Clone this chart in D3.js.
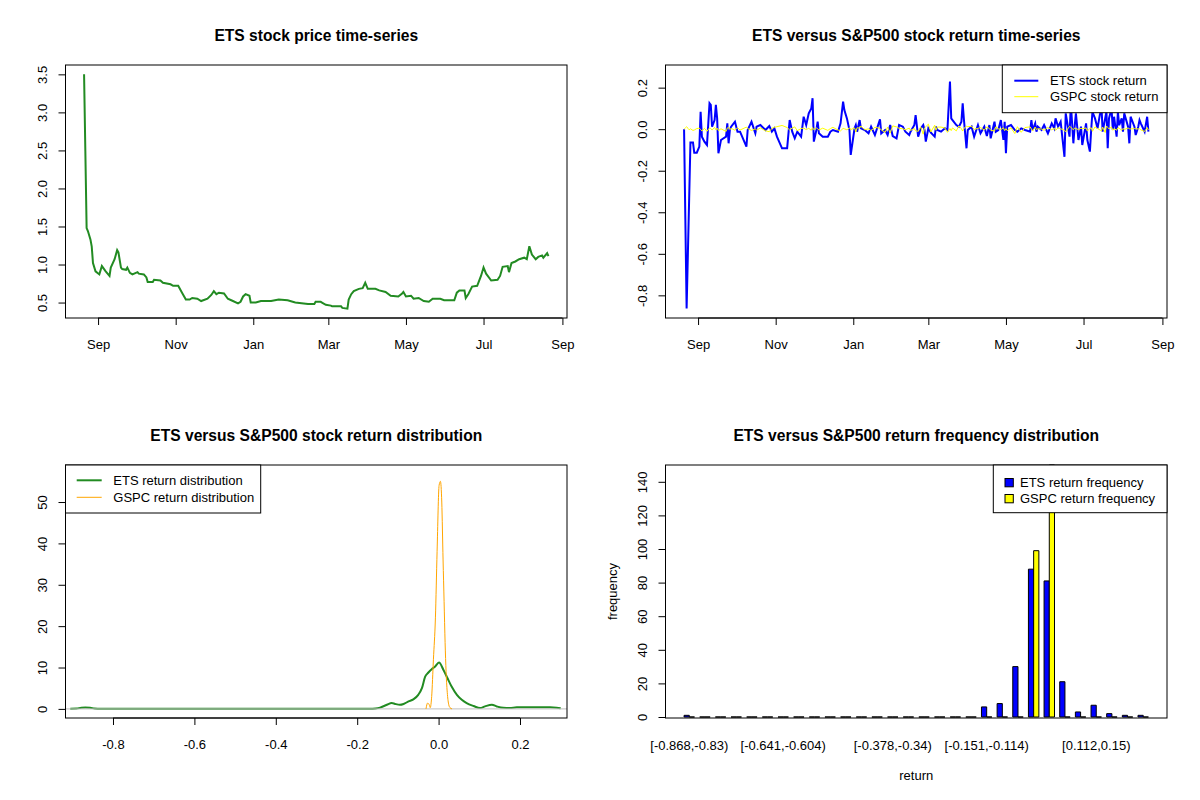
<!DOCTYPE html>
<html>
<head>
<meta charset="utf-8">
<script src="https://cdn.jsdelivr.net/npm/d3@7"></script>
<style>
body { margin: 0; background: #fff; }
</style>
</head>
<body>
<script>
// ETS closing price
var priceDates = [
  "2020-08-21","2020-08-22","2020-08-23","2020-08-24","2020-08-26","2020-08-27","2020-08-28","2020-08-30",
  "2020-09-02","2020-09-04","2020-09-07","2020-09-10","2020-09-11","2020-09-14","2020-09-16","2020-09-17",
  "2020-09-19","2020-09-20","2020-09-23","2020-09-24","2020-09-26","2020-09-28","2020-10-02","2020-10-03",
  "2020-10-07","2020-10-09","2020-10-10","2020-10-14","2020-10-15","2020-10-20","2020-10-22","2020-10-28",
  "2020-10-30","2020-11-03","2020-11-06","2020-11-09","2020-11-12","2020-11-14","2020-11-18","2020-11-21",
  "2020-11-26","2020-11-29","2020-12-01","2020-12-03","2020-12-05","2020-12-09","2020-12-12","2020-12-16",
  "2020-12-20","2020-12-22","2020-12-24","2020-12-26","2020-12-29","2020-12-30","2021-01-03","2021-01-07",
  "2021-01-15","2021-01-21","2021-01-28","2021-02-03","2021-02-13","2021-02-18","2021-02-19","2021-02-23",
  "2021-02-24","2021-02-27","2021-03-03","2021-03-04","2021-03-11","2021-03-12","2021-03-16","2021-03-17",
  "2021-03-19","2021-03-21","2021-03-25","2021-03-28","2021-03-30","2021-04-01","2021-04-07","2021-04-10",
  "2021-04-15","2021-04-19","2021-04-25","2021-04-28","2021-04-29","2021-05-01","2021-05-05","2021-05-07",
  "2021-05-11","2021-05-15","2021-05-19","2021-05-22","2021-05-28","2021-05-31","2021-06-08","2021-06-10",
  "2021-06-12","2021-06-16","2021-06-17","2021-06-19","2021-06-22","2021-06-26","2021-06-29","2021-07-01",
  "2021-07-03","2021-07-07","2021-07-12","2021-07-14","2021-07-16","2021-07-20","2021-07-21","2021-07-23",
  "2021-07-26","2021-07-29","2021-08-02","2021-08-04","2021-08-06","2021-08-08","2021-08-11","2021-08-13",
  "2021-08-16","2021-08-17","2021-08-20","2021-08-21"];
var prices = [
  3.50,2.49,1.48,1.44,1.33,1.24,1.02,0.91,
  0.87,0.98,0.91,0.85,0.96,1.07,1.19,1.16,
  0.96,0.94,0.93,0.96,0.89,0.87,0.90,0.88,
  0.87,0.83,0.77,0.77,0.80,0.79,0.76,0.74,
  0.72,0.72,0.63,0.54,0.54,0.56,0.55,0.52,
  0.55,0.60,0.65,0.61,0.63,0.62,0.55,0.52,
  0.49,0.51,0.58,0.61,0.59,0.50,0.50,0.52,
  0.52,0.54,0.53,0.50,0.48,0.48,0.51,0.51,
  0.50,0.47,0.46,0.45,0.45,0.43,0.42,0.54,
  0.61,0.65,0.68,0.69,0.76,0.68,0.68,0.66,
  0.64,0.59,0.58,0.62,0.64,0.58,0.59,0.55,
  0.56,0.52,0.51,0.55,0.55,0.53,0.53,0.63,
  0.66,0.66,0.56,0.61,0.71,0.72,0.85,0.96,
  0.88,0.79,0.80,0.85,0.97,0.98,0.90,1.02,
  1.04,1.07,1.09,1.07,1.24,1.13,1.07,1.10,
  1.12,1.09,1.15,1.11];

// daily returns (ETS and S&P500), one line per month
var retDates = [
  "2020-08-21","2020-08-22","2020-08-23","2020-08-24","2020-08-25","2020-08-26","2020-08-28","2020-08-29","2020-08-31",
  "2020-09-02","2020-09-03","2020-09-04","2020-09-06","2020-09-08","2020-09-10","2020-09-11","2020-09-12","2020-09-14","2020-09-15","2020-09-16","2020-09-17","2020-09-19","2020-09-23","2020-09-24","2020-09-25","2020-09-26","2020-09-27","2020-09-30",
  "2020-10-02","2020-10-04","2020-10-09","2020-10-10","2020-10-13","2020-10-16","2020-10-17","2020-10-20","2020-10-24","2020-10-27","2020-10-29","2020-10-31",
  "2020-11-02","2020-11-06","2020-11-10","2020-11-12","2020-11-14","2020-11-16","2020-11-18","2020-11-21","2020-11-23","2020-11-25","2020-11-27","2020-11-29","2020-11-30",
  "2020-12-01","2020-12-03","2020-12-04","2020-12-05","2020-12-08","2020-12-12","2020-12-14","2020-12-16","2020-12-20","2020-12-22","2020-12-24","2020-12-25","2020-12-27","2020-12-29","2020-12-30",
  "2021-01-02","2021-01-03","2021-01-04","2021-01-06","2021-01-07","2021-01-10","2021-01-13","2021-01-15","2021-01-18","2021-01-22","2021-01-23","2021-01-26","2021-01-28","2021-01-30",
  "2021-02-01","2021-02-04","2021-02-06","2021-02-09","2021-02-11","2021-02-14","2021-02-15","2021-02-18","2021-02-19","2021-02-21","2021-02-23","2021-02-25","2021-02-26","2021-02-27",
  "2021-03-01","2021-03-03","2021-03-06","2021-03-07","2021-03-08","2021-03-11","2021-03-14","2021-03-16","2021-03-18","2021-03-19","2021-03-20","2021-03-23","2021-03-25","2021-03-27","2021-03-28","2021-03-29","2021-03-31",
  "2021-04-01","2021-04-04","2021-04-06","2021-04-09","2021-04-11","2021-04-14","2021-04-16","2021-04-18","2021-04-19","2021-04-22","2021-04-23","2021-04-25","2021-04-27","2021-04-29","2021-04-30",
  "2021-05-01","2021-05-02","2021-05-05","2021-05-08","2021-05-10","2021-05-13","2021-05-16","2021-05-20","2021-05-21","2021-05-22","2021-05-24","2021-05-25","2021-05-26","2021-05-29","2021-05-31",
  "2021-06-03","2021-06-06","2021-06-08","2021-06-09","2021-06-11","2021-06-13","2021-06-16","2021-06-17","2021-06-20","2021-06-21","2021-06-23","2021-06-24","2021-06-25","2021-06-27","2021-06-29","2021-06-30",
  "2021-07-03","2021-07-04","2021-07-06","2021-07-07","2021-07-08","2021-07-10","2021-07-12","2021-07-14","2021-07-15","2021-07-16","2021-07-18","2021-07-19","2021-07-20","2021-07-21","2021-07-23","2021-07-24","2021-07-25","2021-07-27","2021-07-28","2021-07-29","2021-07-31",
  "2021-08-01","2021-08-02","2021-08-05","2021-08-06","2021-08-07","2021-08-10","2021-08-11","2021-08-13","2021-08-14","2021-08-15","2021-08-18","2021-08-20","2021-08-21"];
var etsReturns = [
  0,-0.434,-0.863,-0.598,-0.333,-0.064,-0.064,-0.113,-0.113,
  -0.084,0.084,-0.036,-0.060,-0.076,0.125,0.117,0.012,0.044,0.117,0.052,-0.116,-0.052,-0.036,0.028,-0.068,-0.004,0.012,0.036,
  -0.012,-0.012,-0.084,-0.004,0.036,-0.020,0.012,0.020,-0.004,0.015,-0.012,0.004,
  -0.036,-0.092,-0.092,0.044,-0.012,-0.044,-0.012,-0.036,0.060,0.020,0.076,0.100,0.149,
  -0.060,-0.004,0.036,-0.020,-0.036,-0.036,-0.012,-0.004,-0.012,0.028,0.133,0.092,0.052,-0.004,-0.124,
  0.004,0.020,-0.012,0.044,0.004,-0.004,-0.020,0.012,-0.028,0.047,-0.020,-0.004,-0.028,0.020,
  -0.033,-0.044,0.020,0.012,-0.012,-0.028,-0.012,0.020,0.068,-0.036,0.004,0.020,-0.004,-0.060,
  0.004,-0.017,-0.036,0.012,-0.004,-0.012,0.004,-0.004,0.229,0.052,0.044,0.020,0.012,0.036,0.125,0.044,-0.092,
  -0.004,0.012,-0.036,0.020,-0.020,0.012,-0.033,0.020,-0.044,0.036,-0.012,-0.004,0.044,-0.052,0.036,
  -0.116,0.012,0.020,-0.004,-0.012,0.004,-0.004,-0.012,0.044,-0.004,0.028,-0.012,0.012,-0.004,0.020,
  -0.020,0.028,0.004,0.052,0.012,0.036,-0.133,0.076,-0.036,0.125,-0.068,0.012,0.076,-0.052,0.012,-0.076,
  0.028,-0.052,-0.108,-0.004,0.084,0.052,0.004,0.076,0.125,-0.012,0.052,0.084,-0.092,0.052,0.100,-0.004,0.060,-0.036,0.084,0.020,0.052,
  -0.012,0.076,0.012,-0.068,0.060,0.012,-0.028,0.012,0.044,0.028,-0.012,0.060,-0.012];
var gspcReturns = [
  0,0.006,0.012,0.004,-0.003,0.002,-0.006,-0.004,0.003,
  0.005,-0.002,-0.008,0.004,-0.010,0.006,0.003,-0.004,0.008,-0.003,0.005,-0.007,0.002,-0.011,0.006,0.009,-0.002,0.004,-0.005,
  0.007,-0.004,0.010,0.003,-0.006,0.002,-0.005,0.006,-0.008,-0.012,0.004,0.009,
  0.012,0.018,0.008,-0.004,0.006,0.011,-0.007,0.003,0.005,-0.002,0.004,-0.005,0.008,
  -0.003,0.006,0.002,-0.004,0.005,-0.006,0.003,0.009,-0.004,-0.008,0.004,0.002,-0.003,0.007,-0.002,
  0.006,-0.014,0.007,0.005,0.015,-0.003,0.002,-0.007,0.009,0.004,-0.004,-0.015,0.010,-0.019,
  0.016,0.011,0.004,0.002,-0.003,0.005,-0.006,0.003,-0.008,-0.010,0.011,-0.024,0.006,0.012,
  0.024,-0.013,0.019,-0.005,0.010,0.010,0.006,-0.015,0.003,-0.007,0.006,-0.008,0.016,0.002,-0.009,0.004,0.014,
  0.012,0.014,-0.001,0.004,0.008,-0.004,0.011,0.003,-0.005,-0.009,0.011,0.002,-0.002,0.007,-0.007,
  0.003,-0.007,0.006,-0.021,0.012,-0.015,0.008,0.011,0.001,-0.008,0.010,-0.002,0.002,0.001,-0.005,
  0.008,-0.003,0.005,-0.006,0.007,0.002,-0.005,-0.013,0.014,0.009,-0.003,0.006,0.003,-0.002,0.005,0.002,
  0.006,-0.009,0.004,0.007,-0.010,0.011,0.003,-0.004,-0.008,0.010,-0.016,0.015,0.008,0.002,0.010,-0.005,0.003,-0.005,0.007,0.004,-0.005,
  0.004,-0.002,0.006,0.002,0.001,0.003,0.002,0.001,0.002,-0.003,-0.011,0.008,-0.004];

// kernel density estimates
var etsDensX = [-0.905,-0.89,-0.878,-0.868,-0.856,-0.845,-0.83,-0.6,-0.3,-0.17,
  -0.155,-0.144,-0.127,-0.115,-0.107,-0.095,-0.086,-0.074,-0.062,-0.050,
  -0.041,-0.033,-0.025,-0.017,-0.009,0.001,0.012,0.022,0.032,0.045,
  0.057,0.069,0.086,0.102,0.114,0.131,0.143,0.159,0.175,0.192,
  0.23,0.274,0.29,0.30];
var etsDensY = [0.05,0.08,0.3,0.35,0.3,0.08,0.03,0.02,0.02,0.03,
  0.1,0.3,1.0,1.4,1.2,1.0,1.2,1.8,2.3,3.4,
  5.0,7.8,8.8,9.6,10.2,11.2,9.4,7.4,5.4,3.4,
  2.2,1.4,0.7,0.2,0.6,1.0,0.6,0.25,0.2,0.4,
  0.4,0.4,0.3,0.15];
var gspcDensX = [-0.031,-0.027,-0.023,-0.0205,-0.017,-0.0127,-0.0078,-0.0037,0.0012,0.0045,
  0.0078,0.011,0.0135,0.016,0.0184,0.0217,0.025,0.028,0.033];
var gspcDensY = [0,1.4,1.0,0.3,3.0,12,22,38,54,55,
  50,36,26,16,9,3.5,1.0,0.3,0];

// return frequency table
var binLabels = ["[-0.868,-0.83)","[-0.83,-0.793)","[-0.793,-0.755)","[-0.755,-0.717)","[-0.717,-0.679)",
  "[-0.679,-0.641)","[-0.641,-0.604)","[-0.604,-0.566)","[-0.566,-0.528)","[-0.528,-0.491)",
  "[-0.491,-0.453)","[-0.453,-0.415)","[-0.415,-0.378)","[-0.378,-0.34)","[-0.34,-0.302)",
  "[-0.302,-0.264)","[-0.264,-0.227)","[-0.227,-0.189)","[-0.189,-0.151)","[-0.151,-0.114)",
  "[-0.114,-0.0758)","[-0.0758,-0.0381)","[-0.0381,-0.000351)","[-0.000351,0.0374)","[0.0374,0.075)",
  "[0.075,0.112)","[0.112,0.15)","[0.15,0.188)","[0.188,0.226)","[0.226,0.263]"];
var etsFreq  = [1,0,0,0,0,0,0,0,0,0, 0,0,0,0,0,0,0,0,0,6, 8,30,88,81,21,3,7,2,1,1];
var gspcFreq = [0,0,0,0,0,0,0,0,0,0, 0,0,0,0,0,0,0,0,0,0, 0,0,99,150,0,0,0,0,0,0];
var shownBins = [0, 6, 13, 19, 26];

var priceTicks = [0.5, 1.0, 1.5, 2.0, 2.5, 3.0, 3.5];
var retTicks = [-0.8, -0.6, -0.4, -0.2, 0.0, 0.2];
var densXTicks = [-0.8, -0.6, -0.4, -0.2, 0.0, 0.2];
var densYTicks = [0, 10, 20, 30, 40, 50];
var freqTicks = [0, 20, 40, 60, 80, 100, 120, 140];

var parseDate = d3.timeParse("%Y-%m-%d");
var FS = 13;          // axis / legend text size
var FT = 15.6;        // title size

var svg = d3.select("body").append("svg")
    .attr("width", 1200).attr("height", 800)
    .style("font-family", "'Liberation Sans', Arial, sans-serif");

// plot region inside every 600x400 panel
var L = 65.5, R = 567, T = 65, B = 318;

function panel(ox, oy, title) {
  var g = svg.append("g").attr("transform", "translate(" + ox + "," + oy + ")");
  g.append("text")
    .attr("x", (L + R) / 2).attr("y", 40.5)
    .attr("text-anchor", "middle")
    .style("font-weight", "bold").style("font-size", FT + "px")
    .text(title);
  return g;
}

function box(g) {
  g.append("rect").attr("x", L).attr("y", T).attr("width", R - L).attr("height", B - T)
    .attr("fill", "none").attr("stroke", "#000");
}

function bottomAxis(g, scale, values, fmt) {
  var ax = g.append("g").attr("transform", "translate(0," + B + ")")
    .call(d3.axisBottom(scale).tickValues(values).tickFormat(fmt).tickSize(7).tickSizeOuter(0));
  ax.attr("font-size", FS).attr("font-family", null);
  ax.select(".domain").remove();
  ax.selectAll("text").attr("y", 31).attr("dy", null).attr("fill", "#000");
  ax.selectAll("line").attr("stroke", "#000");
  g.append("line").attr("x1", scale(values[0])).attr("x2", scale(values[values.length - 1]))
    .attr("y1", B).attr("y2", B).attr("stroke", "#000");
}

function leftAxis(g, scale, values, fmt) {
  var ax = g.append("g").attr("transform", "translate(" + L + ",0)")
    .call(d3.axisLeft(scale).tickValues(values).tickFormat(fmt).tickSize(7).tickSizeOuter(0));
  ax.attr("font-size", FS).attr("font-family", null);
  ax.select(".domain").remove();
  ax.selectAll("text")
    .attr("x", null).attr("dy", null)
    .attr("text-anchor", "middle").attr("fill", "#000")
    .attr("transform", "translate(-19,0) rotate(-90)");
  ax.selectAll("line").attr("stroke", "#000");
  g.append("line").attr("x1", L).attr("x2", L)
    .attr("y1", scale(values[0])).attr("y2", scale(values[values.length - 1])).attr("stroke", "#000");
}

function fmt1(v) { return v.toFixed(1); }
function fmt0(v) { return String(v); }

// shared time axis (R pads the data range by 4% on each side)
var t0 = parseDate(priceDates[0]), t1 = parseDate(priceDates[priceDates.length - 1]);
var pad = (t1 - t0) * 0.04;
var timeDomain = [new Date(+t0 - pad), new Date(+t1 + pad)];
var monthTicks = d3.scaleTime().domain(timeDomain).ticks(d3.timeMonth.every(2));
var fmtMonth = d3.timeFormat("%b");

// ---------- panel 1: price ----------
(function () {
  var g = panel(0, 0, "ETS stock price time-series");
  var x = d3.scaleTime().domain(timeDomain).range([L, R]);
  var y = d3.scaleLinear().domain([0.297, 3.623]).range([B, T]);
  var line = d3.line()
    .x(function (d, i) { return x(parseDate(priceDates[i])); })
    .y(function (d) { return y(d); });
  g.append("path").datum(prices).attr("d", line)
    .attr("fill", "none").attr("stroke", "#228B22").attr("stroke-width", 2);
  box(g);
  bottomAxis(g, x, monthTicks, fmtMonth);
  leftAxis(g, y, priceTicks, fmt1);
})();

// ---------- panel 2: returns ----------
(function () {
  var g = panel(600, 0, "ETS versus S&P500 stock return time-series");
  var x = d3.scaleTime().domain(timeDomain).range([L, R]);
  var y = d3.scaleLinear().domain([-0.909, 0.309]).range([B, T]);
  var line = d3.line()
    .x(function (d, i) { return x(parseDate(retDates[i])); })
    .y(function (d) { return y(d); });
  g.append("path").datum(etsReturns).attr("d", line)
    .attr("fill", "none").attr("stroke", "#0000FF").attr("stroke-width", 2);
  g.append("path").datum(gspcReturns).attr("d", line)
    .attr("fill", "none").attr("stroke", "#FFFF00").attr("stroke-width", 1);
  box(g);
  bottomAxis(g, x, monthTicks, fmtMonth);
  leftAxis(g, y, retTicks, fmt1);

  var lg = g.append("g");
  lg.append("rect").attr("x", 402.3).attr("y", T).attr("width", R - 402.3).attr("height", 47.7)
    .attr("fill", "#fff").attr("stroke", "#000");
  var items = [["ETS stock return", "#0000FF", 2], ["GSPC stock return", "#FFFF00", 1]];
  items.forEach(function (it, i) {
    var yy = 80.7 + i * 16;
    lg.append("line").attr("x1", 414.3).attr("x2", 438.3).attr("y1", yy).attr("y2", yy)
      .attr("stroke", it[1]).attr("stroke-width", it[2]);
    lg.append("text").attr("x", 450).attr("y", yy + 4.6).style("font-size", FS + "px").text(it[0]);
  });
})();

// ---------- panel 3: densities ----------
(function () {
  var g = panel(0, 400, "ETS versus S&P500 stock return distribution");
  var x = d3.scaleLinear().domain([-0.9167, 0.3155]).range([L, R]);
  var y = d3.scaleLinear().domain([-2.2, 58.95]).range([B, T]);
  var line = d3.line().curve(d3.curveMonotoneX);
  g.append("path")
    .datum(etsDensX.map(function (v, i) { return [x(v), y(etsDensY[i])]; }))
    .attr("d", line).attr("fill", "none").attr("stroke", "#228B22").attr("stroke-width", 2);
  g.append("line").attr("x1", L).attr("x2", R).attr("y1", y(0)).attr("y2", y(0))
    .attr("stroke", "#bebebe").attr("stroke-width", 1);
  g.append("path")
    .datum(gspcDensX.map(function (v, i) { return [x(v), y(gspcDensY[i])]; }))
    .attr("d", line).attr("fill", "none").attr("stroke", "#FFA500").attr("stroke-width", 1);
  box(g);
  bottomAxis(g, x, densXTicks, fmt1);
  leftAxis(g, y, densYTicks, fmt0);

  var lg = g.append("g");
  lg.append("rect").attr("x", L).attr("y", T).attr("width", 260.7 - L).attr("height", 48)
    .attr("fill", "#fff").attr("stroke", "#000");
  var items = [["ETS return distribution", "#228B22", 2], ["GSPC return distribution", "#FFA500", 1]];
  items.forEach(function (it, i) {
    var yy = 80.3 + i * 17;
    lg.append("line").attr("x1", 76.7).attr("x2", 101.7).attr("y1", yy).attr("y2", yy)
      .attr("stroke", it[1]).attr("stroke-width", it[2]);
    lg.append("text").attr("x", 113.3).attr("y", yy + 4.6).style("font-size", FS + "px").text(it[0]);
  });
})();

// ---------- panel 4: frequency bars ----------
(function () {
  var g = panel(600, 400, "ETS versus S&P500 return frequency distribution");
  // barplot units: groups of 2 bars with a 1-bar gap, padded 4%
  var u = d3.scaleLinear().domain([-2.56, 93.56]).range([L, R]);
  var xg = d3.scaleBand().domain(d3.range(binLabels.length)).range([u(1), u(90)])
    .paddingInner(1 / 3).paddingOuter(0);
  var xs = d3.scaleBand().domain(["ETS", "GSPC"]).range([0, xg.bandwidth()]);
  var y = d3.scaleLinear().domain([0, 150]).range([317, T]);
  var series = [["ETS", etsFreq, "#0000FF"], ["GSPC", gspcFreq, "#FFFF00"]];
  series.forEach(function (s) {
    g.selectAll(null).data(s[1]).enter().append("path")
      .attr("d", function (d, i) {
        var x0 = xg(i) + xs(s[0]), w = xs.bandwidth();
        return "M" + x0 + "," + y(0) + "H" + (x0 + w) + "V" + y(d) + "H" + x0 + "Z";
      })
      .attr("fill", s[2]).attr("stroke", "#000").attr("stroke-width", 1);
  });
  box(g);

  var ax = g.append("g").attr("transform", "translate(0," + B + ")")
    .call(d3.axisBottom(xg).tickValues(shownBins)
      .tickFormat(function (i) { return binLabels[i]; }).tickSize(0));
  ax.attr("font-size", FS).attr("font-family", null);
  ax.select(".domain").remove();
  ax.selectAll("line").remove();
  ax.selectAll("text").attr("y", 31.5).attr("dy", null).attr("fill", "#000");

  leftAxis(g, y, freqTicks, fmt0);

  g.append("text").attr("x", (L + R) / 2).attr("y", 380).attr("text-anchor", "middle")
    .style("font-size", FS + "px").text("return");
  g.append("text").attr("transform", "translate(16.5," + ((T + B) / 2) + ") rotate(-90)")
    .attr("text-anchor", "middle").style("font-size", FS + "px").text("frequency");

  var lg = g.append("g");
  lg.append("rect").attr("x", 393.3).attr("y", T).attr("width", R - 393.3).attr("height", 47.7)
    .attr("fill", "#fff").attr("stroke", "#000");
  var items = [["ETS return frequency", "#0000FF"], ["GSPC return frequency", "#FFFF00"]];
  items.forEach(function (it, i) {
    var yy = 82.7 + i * 16;
    lg.append("rect").attr("x", 405).attr("y", yy - 4.2).attr("width", 8.3).attr("height", 8.3)
      .attr("fill", it[1]).attr("stroke", "#000");
    lg.append("text").attr("x", 420).attr("y", yy + 4.6).style("font-size", FS + "px").text(it[0]);
  });
})();
</script>
</body>
</html>
